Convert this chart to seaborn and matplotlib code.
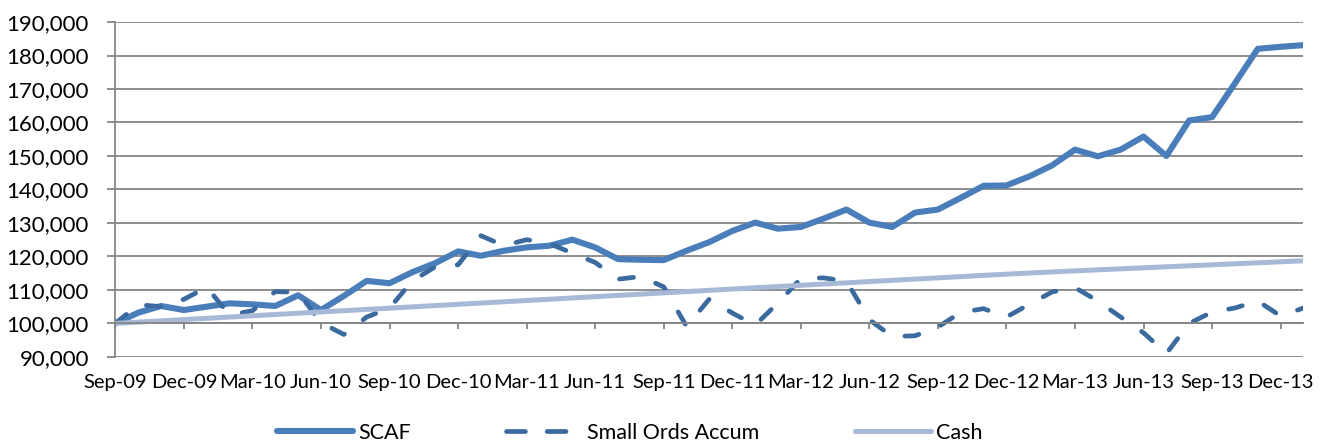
import numpy as np
import pandas as pd
import matplotlib
matplotlib.use("Agg")
import matplotlib.pyplot as plt
from matplotlib.lines import Line2D
import seaborn as sns

# monthly index values, Sep-09 .. Jan-14
months = pd.period_range("2009-09", "2014-01", freq="M")

scaf = [100000, 103200, 105200, 104000, 105000, 106000, 105700, 105200, 108400, 104000,
        108200, 112700, 112000, 115300, 118000, 121500, 120200, 121700, 122700, 123200,
        125000, 122700, 119200, 119000, 118900, 121700, 124300, 127600, 130100, 128300,
        128800, 131300, 134000, 130100, 128800, 133100, 134000, 137500, 141100, 141200,
        143900, 147200, 151900, 149900, 151900, 155800, 150000, 160600, 161600, 171700,
        182000, 182600, 183100]

small_ords = [100000, 105600, 105000, 107200, 110800, 102500, 103800, 109500, 109300, 100200,
              96700, 101900, 104600, 112700, 116900, 117500, 126200, 123200, 125000, 123800,
              121000, 118200, 113200, 114000, 110900, 99100, 107300, 103100, 99500, 106100,
              113400, 113600, 112600, 101100, 96100, 96300, 98900, 103300, 104400, 101900,
              105700, 109400, 110700, 106700, 101900, 97200, 91000, 100000, 103400, 104600,
              106700, 102200, 104600]

cash = [100000, 100380, 100760, 101140, 101520, 101900, 102280, 102660, 103040, 103420,
        103800, 104180, 104560, 104940, 105320, 105700, 106080, 106460, 106840, 107220,
        107600, 107980, 108360, 108740, 109120, 109500, 109880, 110260, 110640, 111010,
        111380, 111750, 112120, 112490, 112860, 113230, 113600, 113970, 114340, 114700,
        115040, 115370, 115690, 116000, 116300, 116600, 116900, 117200, 117500, 117800,
        118100, 118400, 118700]

series_names = ["SCAF", "Small Ords Accum", "Cash"]
colors = ["#4A7EBB", "#3B6A9F", "#A7B9D7"]

x = np.arange(len(months))
tick_pos = x[::3][:18]
tick_labels = [m.strftime("%b-%y") for m in months[::3][:18]]

sns.set_style("white")
plt.rcParams["font.family"] = ["Lato", "DejaVu Sans"]
plt.rcParams["text.color"] = "black"

fig = plt.figure(figsize=(13.26, 4.45), dpi=100)
ax = fig.add_axes([0.087, 0.198, 0.896, 0.7525])

grey = "#868686"
sns.lineplot(x=x, y=scaf, ax=ax, color=colors[0], linewidth=4.4, legend=False)
sns.lineplot(x=x, y=small_ords, ax=ax, color=colors[1], linewidth=3.4, legend=False)
sns.lineplot(x=x, y=cash, ax=ax, color=colors[2], linewidth=3.6, legend=False)

lines = ax.get_lines()
for ln in lines:
    ln.set_solid_joinstyle("round")
    ln.set_solid_capstyle("round")
lines[1].set_dashes((3.0, 5.0))
lines[1].set_dash_capstyle("round")
lines[1].set_dash_joinstyle("round")

ax.set_xlim(0, len(months) - 1)
ax.set_ylim(90000, 190000)
ax.set_yticks(np.arange(90000, 190001, 10000))
ax.yaxis.set_major_formatter(matplotlib.ticker.StrMethodFormatter("{x:,.0f}"))
ax.set_xticks(tick_pos)
ax.set_xticklabels(tick_labels)

ax.grid(axis="y", color=grey, linewidth=1.3)
ax.grid(axis="x", visible=False)
ax.set_axisbelow(True)
for s in ["top", "right"]:
    ax.spines[s].set_visible(False)
ax.spines["left"].set_color(grey)
ax.spines["left"].set_linewidth(1.3)
ax.spines["bottom"].set_color(grey)
ax.spines["bottom"].set_linewidth(1.3)
ax.spines["bottom"].set_position(("data", 100000))

# axis crosses at 100,000 in the original, labels pushed down to the bottom
ax.tick_params(axis="y", direction="out", length=6, width=1.3, color=grey,
               labelsize=16, labelcolor="black", pad=13, left=True)
ax.tick_params(axis="x", direction="out", length=4.5, width=1.3, color=grey,
               labelsize=14.5, labelcolor="black", pad=32, bottom=True)
ax.set_xlabel("")
ax.set_ylabel("")

# legend handles (dashed one gets longer dashes so it shows two of them)
handles = [
    Line2D([], [], color=colors[0], lw=4.4, solid_capstyle="round"),
    Line2D([], [], color=colors[1], lw=3.4, dashes=(4.0, 4.6), dash_capstyle="round"),
    Line2D([], [], color=colors[2], lw=3.6, solid_capstyle="round"),
]
fig.legend(handles=handles, labels=series_names,
           loc="center", bbox_to_anchor=(0.475, 0.028), ncol=3, frameon=False,
           fontsize=15.5, handlelength=3.5, handletextpad=0.25, columnspacing=4.45)

fig.savefig("out.png", dpi=100)
